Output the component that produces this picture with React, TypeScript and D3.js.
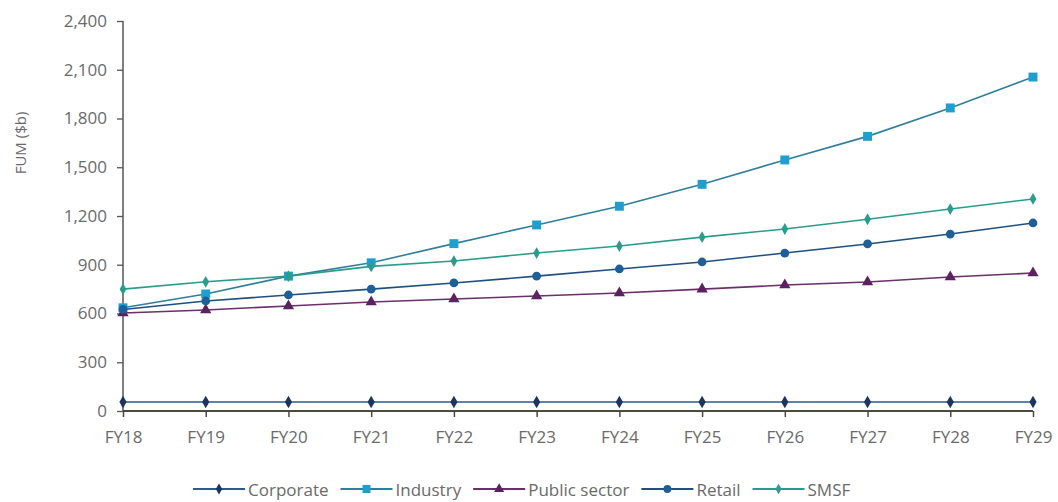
import React, { useEffect, useRef } from "react";
import * as d3 from "d3";

const categories = ["FY18", "FY19", "FY20", "FY21", "FY22", "FY23", "FY24", "FY25", "FY26", "FY27", "FY28", "FY29"];
const corporate = [55, 55, 55, 55, 55, 55, 55, 55, 55, 55, 55, 55];
const industry = [635, 720, 830, 912, 1030, 1145, 1260, 1395, 1545, 1690, 1865, 2055];
const publicSector = [603, 622, 646, 671, 689, 708, 726, 750, 775, 794, 825, 849];
const retail = [625, 677, 714, 750, 788, 830, 874, 917, 972, 1028, 1089, 1157];
const smsf = [750, 795, 830, 890, 923, 972, 1015, 1070, 1120, 1180, 1243, 1305];
const yTicks = [0, 300, 600, 900, 1200, 1500, 1800, 2100, 2400];
const yTitle = "FUM ($b)";

const seriesList = [
  { name: "Corporate", values: corporate, line: "#2a5a8e", marker: "#1b3560", shape: "diamond", size: 45 },
  { name: "Industry", values: industry, line: "#2f7f9c", marker: "#1f9fd0", shape: "square", size: 80 },
  { name: "Public sector", values: publicSector, line: "#6b2f6c", marker: "#5b2160", shape: "triangle", size: 55 },
  { name: "Retail", values: retail, line: "#1f4f80", marker: "#1e5f98", shape: "circle", size: 60 },
  { name: "SMSF", values: smsf, line: "#2a9c8c", marker: "#2a9c8c", shape: "diamond", size: 40 },
];

const symbolType = (s: string) =>
  s === "square" ? d3.symbolSquare : s === "triangle" ? d3.symbolTriangle : s === "circle" ? d3.symbolCircle : d3.symbolDiamond;

export default function App() {
  const ref = useRef<SVGSVGElement>(null);
  useEffect(() => {
    const svg = d3.select(ref.current);
    svg.selectAll("*").remove();
    const font = "'Open Sans', sans-serif";
    const textFill = "#6a6a6a";
    const x = d3.scalePoint<string>().domain(categories).range([123, 1033]);
    const y = d3.scaleLinear().domain([0, 2400]).range([411, 21]);

    // y axis
    const yAxis = svg.append("g").attr("transform", "translate(123,0)")
      .call(d3.axisLeft(y).tickValues(yTicks).tickSize(6).tickPadding(10).tickFormat(d3.format(",")));
    yAxis.select(".domain").attr("stroke", "#555").attr("stroke-width", 1.5).attr("d", "M0,21V411");
    yAxis.selectAll(".tick line").attr("stroke", "#555").attr("stroke-width", 1.3);
    yAxis.selectAll("text").attr("fill", textFill).style("font-family", font).style("font-size", "17px");

    svg.append("text").attr("transform", "translate(20,143) rotate(-90)")
      .attr("text-anchor", "middle").attr("dominant-baseline", "central")
      .attr("fill", textFill).style("font-family", font).style("font-size", "15px").text(yTitle);

    // lines
    const line = d3.line<number>().x((_, i) => x(categories[i])!).y((d) => y(d));
    seriesList.forEach((s) => {
      svg.append("path").attr("d", line(s.values)!).attr("fill", "none")
        .attr("stroke", s.line).attr("stroke-width", 1.6);
      svg.selectAll(null).data(s.values).enter().append("path")
        .attr("transform", (d, i) => `translate(${x(categories[i])},${y(d)})`)
        .attr("d", d3.symbol().type(symbolType(s.shape)).size(s.size)()!)
        .attr("fill", s.marker);
    });

    // x axis
    const xAxis = svg.append("g").attr("transform", "translate(0,411)")
      .call(d3.axisBottom(x).tickSize(6).tickPadding(14));
    xAxis.select(".domain").attr("stroke", "#4a4a40").attr("stroke-width", 2).attr("d", "M123,0H1033");
    xAxis.selectAll(".tick line").attr("stroke", "#4a4a40").attr("stroke-width", 1.5);
    xAxis.selectAll("text").attr("fill", textFill).style("font-family", font).style("font-size", "17px");

    // legend
    const leg = svg.append("g").attr("transform", "translate(0,489)");
    let cx = 193;
    seriesList.forEach((s) => {
      const g = leg.append("g");
      g.append("line").attr("x1", cx).attr("x2", cx + 52).attr("y1", 0).attr("y2", 0)
        .attr("stroke", s.line).attr("stroke-width", 2);
      g.append("path").attr("transform", `translate(${cx + 26},0)`)
        .attr("d", d3.symbol().type(symbolType(s.shape)).size(s.size * 0.8)()!)
        .attr("fill", s.marker);
      const t = g.append("text").attr("x", cx + 55).attr("y", 0).attr("dominant-baseline", "central")
        .attr("fill", textFill).style("font-family", font).style("font-size", "17px").text(s.name);
      const w = (t.node() as SVGTextElement).getComputedTextLength();
      cx += 55 + w + 12;
    });
  }, []);
  return <svg ref={ref} width={1058} height={502} style={{ position: "absolute", left: 0, top: 0, background: "#fff" }} />;
}
